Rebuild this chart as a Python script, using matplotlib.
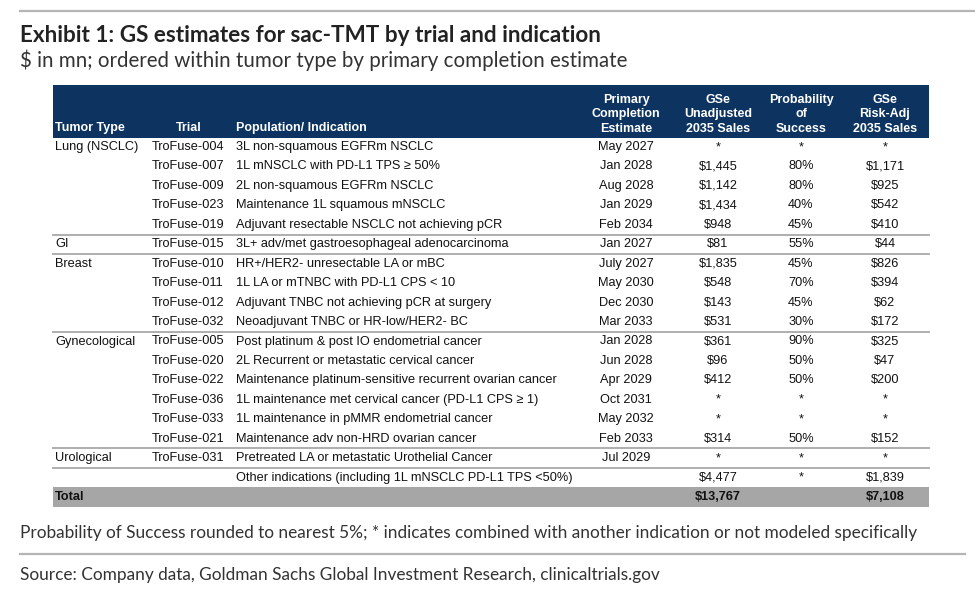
import matplotlib
matplotlib.use("Agg")
import matplotlib.pyplot as plt

# table content
groups = ["Lung (NSCLC)", "GI", "Breast", "Gynecological", "Urological"]
group_sizes = [5, 1, 4, 6, 1]

trials = ["TroFuse-004", "TroFuse-007", "TroFuse-009", "TroFuse-023", "TroFuse-019",
          "TroFuse-015",
          "TroFuse-010", "TroFuse-011", "TroFuse-012", "TroFuse-032",
          "TroFuse-005", "TroFuse-020", "TroFuse-022", "TroFuse-036", "TroFuse-033", "TroFuse-021",
          "TroFuse-031", ""]
indications = ["3L non-squamous EGFRm NSCLC",
               "1L mNSCLC with PD-L1 TPS \u2265 50%",
               "2L non-squamous EGFRm NSCLC",
               "Maintenance 1L squamous mNSCLC",
               "Adjuvant resectable NSCLC not achieving pCR",
               "3L+ adv/met gastroesophageal adenocarcinoma",
               "HR+/HER2- unresectable LA or mBC",
               "1L LA or mTNBC with PD-L1 CPS < 10",
               "Adjuvant TNBC not achieving pCR at surgery",
               "Neoadjuvant TNBC or HR-low/HER2- BC",
               "Post platinum & post IO endometrial cancer",
               "2L Recurrent or metastatic cervical cancer",
               "Maintenance platinum-sensitive recurrent ovarian cancer",
               "1L maintenance met cervical cancer (PD-L1 CPS \u2265 1)",
               "1L maintenance in pMMR endometrial cancer",
               "Maintenance adv non-HRD ovarian cancer",
               "Pretreated LA or metastatic Urothelial Cancer",
               "Other indications (including 1L mNSCLC PD-L1 TPS <50%)"]
completion = ["May 2027", "Jan 2028", "Aug 2028", "Jan 2029", "Feb 2034",
              "Jan 2027",
              "July 2027", "May 2030", "Dec 2030", "Mar 2033",
              "Jan 2028", "Jun 2028", "Apr 2029", "Oct 2031", "May 2032", "Feb 2033",
              "Jul 2029", ""]
unadjusted = ["*", "$1,445", "$1,142", "$1,434", "$948",
              "$81",
              "$1,835", "$548", "$143", "$531",
              "$361", "$96", "$412", "*", "*", "$314",
              "*", "$4,477"]
prob_success = ["*", "80%", "80%", "40%", "45%",
                "55%",
                "45%", "70%", "45%", "30%",
                "90%", "50%", "50%", "*", "*", "50%",
                "*", "*"]
risk_adj = ["*", "$1,171", "$925", "$542", "$410",
            "$44",
            "$826", "$394", "$62", "$172",
            "$325", "$47", "$200", "*", "*", "$152",
            "*", "$1,839"]
total_unadj = "$13,767"
total_risk = "$7,108"

headers = ["Tumor Type", "Trial", "Population/ Indication",
           "Primary\nCompletion\nEstimate", "GSe\nUnadjusted\n2035 Sales",
           "Probability\nof\nSuccess", "GSe\nRisk-Adj\n2035 Sales"]

title = "Exhibit 1: GS estimates for sac-TMT by trial and indication"
subtitle = "$ in mn; ordered within tumor type by primary completion estimate"
footnote = ("Probability of Success rounded to nearest 5%; * indicates combined "
            "with another indication or not modeled specifically")
source = "Source: Company data, Goldman Sachs Global Investment Research, clinicaltrials.gov"

navy = "#0d3461"
grey_bar = "#a6a6a6"
rule = "#a8a8a8"
ink = "#111111"
tbl_font = ["Liberation Sans", "DejaVu Sans"]
head_font = ["Lato", "DejaVu Sans"]
body_size = 9.2
head_size = 9.0

fig = plt.figure(figsize=(9.75, 6.05), dpi=100)
ax = fig.add_axes([0, 0, 1, 1])
ax.set_xlim(0, 975)
ax.set_ylim(605, 0)
ax.axis("off")

# top rule, title, subtitle
ax.plot([20, 975], [11, 11], color="#b5b5b5", lw=1.6)
ax.text(20, 35, title, family=head_font, fontweight="bold", fontsize=16.2,
        color="#222222", va="center", ha="left")
ax.text(20, 60, subtitle, family=head_font, fontsize=14.8, color="#333333",
        va="center", ha="left")

left, right = 53, 929
x_tumor, x_trial, x_ind = 55, 152, 236
x_centers = [626, 718, 801, 885]

# header band
ax.add_patch(plt.Rectangle((left, 85), right - left, 53, color=navy, lw=0))
for txt, x in zip(headers[:3], [x_tumor, 189, x_ind]):
    ax.text(x, 128, txt, family=tbl_font, fontweight="bold", fontsize=head_size,
            color="white", ha="center" if txt == "Trial" else "left", va="center")
for txt, x in zip(headers[3:], x_centers):
    ax.text(x, 132, txt, family=tbl_font, fontweight="bold", fontsize=head_size,
            color="white", ha="center", va="baseline", linespacing=1.28)

# body rows
y0, row_h = 147, 19.45
start = 0
for g, n in zip(groups, group_sizes):
    ax.text(x_tumor, y0 + start * row_h, g, family=tbl_font, fontsize=body_size,
            color=ink, va="center", ha="left")
    start += n
    ax.plot([left, right], [y0 + (start - 0.5) * row_h] * 2, color=rule, lw=1.3)

for i in range(len(trials)):
    y = y0 + i * row_h
    ax.text(x_trial, y, trials[i], family=tbl_font, fontsize=body_size, color=ink,
            va="center", ha="left")
    ax.text(x_ind, y, indications[i], family=tbl_font, fontsize=body_size, color=ink,
            va="center", ha="left")
    for val, x in zip([completion[i], unadjusted[i], prob_success[i], risk_adj[i]],
                      x_centers):
        ax.text(x, y, val, family=tbl_font, fontsize=body_size,
                color=ink, va="center", ha="center")

# total row
yt = y0 + len(trials) * row_h
ax.add_patch(plt.Rectangle((left, yt - 10), right - left, 19.5, color=grey_bar, lw=0))
ax.text(x_tumor, yt, "Total", family=tbl_font, fontweight="bold", fontsize=body_size,
        color=ink, va="center", ha="left")
ax.text(x_centers[1], yt, total_unadj, family=tbl_font, fontweight="bold",
        fontsize=body_size, color=ink, va="center", ha="center")
ax.text(x_centers[3], yt, total_risk, family=tbl_font, fontweight="bold",
        fontsize=body_size, color=ink, va="center", ha="center")

# footnote and source
ax.text(20, 533, footnote, family=head_font, fontsize=12.4, color="#333333",
        va="center", ha="left")
ax.plot([20, 965], [554, 554], color="#b5b5b5", lw=1.6)
ax.text(20, 575, source, family=head_font, fontsize=12.4, color="#333333",
        va="center", ha="left")

fig.savefig("out.png", dpi=100)
